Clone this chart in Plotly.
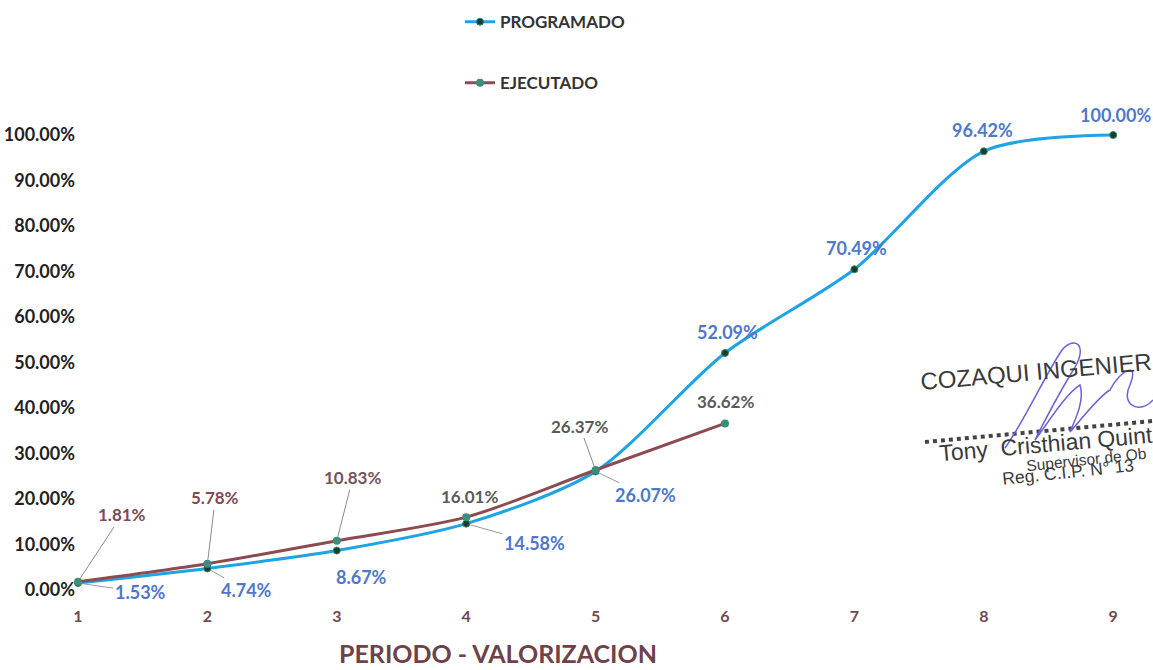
import plotly.graph_objects as go

periodos = [1, 2, 3, 4, 5, 6, 7, 8, 9]
programado = [1.53, 4.74, 8.67, 14.58, 26.07, 52.09, 70.49, 96.42, 100.00]
periodos_ej = [1, 2, 3, 4, 5, 6]
ejecutado = [1.81, 5.78, 10.83, 16.01, 26.37, 36.62]
y_ticks = [0, 10, 20, 30, 40, 50, 60, 70, 80, 90, 100]

BLUE = "#1ea3e4"
BROWN = "#8c4b51"
LBL_BLUE = "#4f78c8"
FONT = "Lato"

# plot area geometry (pixels)
L, T, W, H = 76, 110, 1077, 490
UNIT = 129.4  # px per period
X0 = 1 - 2 / UNIT


def px(xp, yp):
    return (xp - L) / W, (T + H - yp) / H


fig = go.Figure()
fig.add_trace(go.Scatter(
    x=periodos, y=programado, name="<b>PROGRAMADO</b>", mode="lines+markers",
    line=dict(color=BLUE, width=3, shape="spline", smoothing=0.8),
    marker=dict(color="#1d3b2c", size=7, line=dict(color="#2f8a6e", width=1)),
    legendgroup="a", cliponaxis=False))
fig.add_trace(go.Scatter(
    x=periodos_ej, y=ejecutado, name="<b>EJECUTADO</b>", mode="lines+markers",
    line=dict(color=BROWN, width=3, shape="spline", smoothing=0.8),
    marker=dict(color="#3a8f7c", size=8),
    legendgroup="b", cliponaxis=False))

prog_off = [(62, 9, True), (39, 22, True), (25, 26, False), (68, 19, True), (50, 24, True),
            (2, -21, False), (2, -21, False), (-1, -21, False), (2, -20, False)]
ej_off = [(44, -67, True), (8, -66, True), (16, -63, True), (3, -21, False), (-16, -44, True), (0, -22, False)]
ej_col = ["#7d4a55", "#7d4a55", "#74545a", "#5a5a5a", "#5a5a5a", "#5a5a5a"]

ann = []
for x, v, (ax, ay, ln) in zip(periodos, programado, prog_off):
    ann.append(dict(x=x, y=v, xref="x", yref="y", text=f"<b>{v:.2f}%</b>", ax=ax, ay=ay,
                    showarrow=True, arrowhead=0, arrowwidth=1, standoff=4,
                    arrowcolor="#9a9a9a" if ln else "rgba(0,0,0,0)",
                    font=dict(family=FONT, size=18, color=LBL_BLUE)))
for x, v, (ax, ay, ln), c in zip(periodos_ej, ejecutado, ej_off, ej_col):
    ann.append(dict(x=x, y=v, xref="x", yref="y", text=f"<b>{v:.2f}%</b>", ax=ax, ay=ay,
                    showarrow=True, arrowhead=0, arrowwidth=1, standoff=4,
                    arrowcolor="#8a8a8a" if ln else "rgba(0,0,0,0)",
                    font=dict(family=FONT, size=17, color=c)))

# x-axis title
tx, ty = px(498, 653)
ann.append(dict(x=tx, y=ty, xref="paper", yref="paper", showarrow=False,
                text="<b>PERIODO - VALORIZACION</b>", xanchor="center", yanchor="middle",
                font=dict(family=FONT, size=25, color="#6e4248")))

# stamp text (visible part of the stamp)
stamp = [
    ("COZAQUI INGENIER", 1036, 371, 24, -5),
    ("Tony  Cristhian Quint", 1046, 444, 23, -5),
    ("Supervisor de Ob", 1086, 459, 15.5, -6),
    ("Reg. C.I.P. N° 13", 1068, 472, 17.5, -6),
]
for t, xp_, yp_, s, ang in stamp:
    sx, sy = px(xp_, yp_)
    ann.append(dict(x=sx, y=sy, xref="paper", yref="paper", text=t, showarrow=False,
                    xanchor="center", yanchor="middle", textangle=ang,
                    font=dict(family="Liberation Sans", size=s, color="#3a3a3a")))

x0, y0 = px(925, 442)
x1, y1 = px(1153, 421)
shapes = [dict(type="line", xref="paper", yref="paper", x0=x0, y0=y0, x1=x1, y1=y1,
               line=dict(color="#444444", width=4, dash="dot"))]

# signature scribble
sig = [("M", 1005, 448), ("C", 1025, 420), ("", 1045, 375), ("", 1062, 350),
       ("C", 1075, 335), ("", 1090, 345), ("", 1072, 372),
       ("C", 1060, 392), ("", 1045, 420), ("", 1035, 440),
       ("C", 1050, 420), ("", 1065, 395), ("", 1080, 385),
       ("C", 1085, 400), ("", 1075, 420), ("", 1070, 432),
       ("C", 1085, 415), ("", 1100, 395), ("", 1110, 390),
       ("C", 1120, 370), ("", 1140, 360), ("", 1130, 385),
       ("C", 1120, 405), ("", 1140, 415), ("", 1153, 400)]
path = ""
for cmd, a, b in sig:
    sx, sy = px(a, b)
    path += f"{cmd}{' ' if cmd else ''}{sx:.4f},{sy:.4f} "
shapes.append(dict(type="path", xref="paper", yref="paper", path=path.strip(),
                   line=dict(color="#6a62d8", width=1.5)))

fig.update_layout(
    width=1153, height=670,
    margin=dict(l=L, r=0, t=T, b=670 - T - H),
    paper_bgcolor="white", plot_bgcolor="white",
    showlegend=True,
    legend=dict(x=(460 - L) / W, y=1.216, xanchor="left", yanchor="top",
                font=dict(family=FONT, size=17, color="#333333"),
                tracegroupgap=36, bgcolor="rgba(0,0,0,0)"),
    annotations=ann,
    shapes=shapes,
    xaxis=dict(range=[X0, X0 + W / UNIT], tickvals=periodos,
               ticktext=[f"<b>{p}</b>" for p in periodos],
               showgrid=False, zeroline=False, showline=False, ticks="", automargin=False,
               ticklabelstandoff=5,
               tickfont=dict(family=FONT, size=16, color="#6e4a50")),
    yaxis=dict(range=[-2.2, 105.5], tickvals=y_ticks, ticktext=[f"<b>{v:.2f}%</b>" for v in y_ticks],
               showgrid=False, zeroline=False, showline=False, ticks="", automargin=False,
               tickfont=dict(family=FONT, size=18, color="#222222")),
)

fig.write_html("out.html", config={"displayModeBar": False},
               post_script="document.body.style.margin='0';document.body.style.overflow='hidden';")
